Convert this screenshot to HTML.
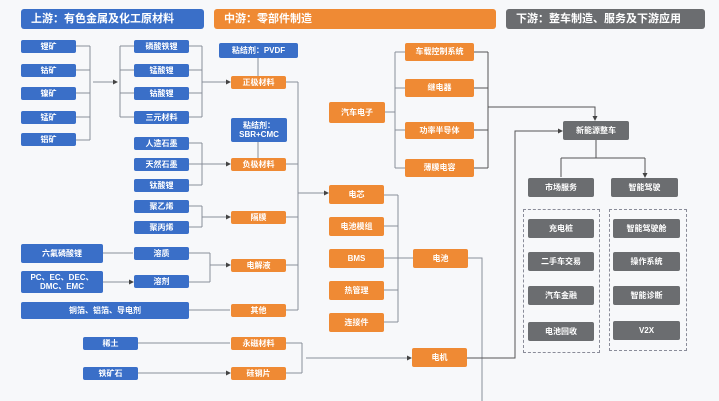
<!DOCTYPE html><html><head><meta charset="utf-8"><style>
body{margin:0;width:719px;height:401px;background:#f7f8fa;position:relative;overflow:hidden;font-family:"Liberation Sans","Noto Sans CJK SC",sans-serif;}
.b{position:absolute;display:flex;align-items:center;justify-content:center;color:#fff;font-size:8px;font-weight:bold;border-radius:2px;text-align:center;line-height:1.15;}
.bl{background:#3a6fc8}.or{background:#ef8a34}.gr{background:#6b6d70}
.h{font-size:11px;justify-content:flex-start;padding-left:10px;box-sizing:border-box;border-radius:3px}
.d{position:absolute;border:1.3px dashed #8a8c99;}
svg{position:absolute;left:0;top:0}
</style></head><body>
<svg width="719" height="401" fill="none" stroke="#8a8f9a" stroke-width="1">
<defs><marker id="a" markerWidth="5" markerHeight="5" refX="4" refY="2.5" orient="auto"><path d="M0,0L5,2.5L0,5z" fill="#444" stroke="none"/></marker></defs>
<path d="M76,46H90M76,70H90M76,93H90M76,117H90M76,140H90M90,46V140"/>
<path d="M93,82H117" marker-end="url(#a)"/>
<path d="M120,46V117M120,46H134M120,70H134M120,93H134M120,117H134"/>
<path d="M189,46H202M189,70H202M189,93H202M189,117H202M202,46V117M202,82H230" marker-end="url(#a)"/>
<path d="M258,58V76M258,142V158"/>
<path d="M189,143H202M189,164H202M189,185H202M202,143V185M202,164H230" marker-end="url(#a)"/>
<path d="M189,206H202M189,227H202M202,206V227M202,217H230" marker-end="url(#a)"/>
<path d="M103,253H133M103,282H133" marker-end="url(#a)"/>
<path d="M189,253H210M189,282H210M210,253V282M210,265H230" marker-end="url(#a)"/>
<path d="M189,310H230M138,343H230M138,373H230" marker-end="url(#a)"/>
<path d="M286,82H298M286,164H298M286,217H298M286,265H298M286,310H298M298,82V310M298,193H328" marker-end="url(#a)"/>
<path d="M286,343H302M286,373H302M302,343V373M306,358H411" marker-end="url(#a)"/>
<path d="M385,112H395M395,52V168M395,52H405M395,88H405M395,130H405M395,168H405"/>
<path d="M474,52H488M474,88H488M474,130H488M474,168H488M488,52V168M488,107H595V120" stroke="#555" marker-end="url(#a)"/>
<path d="M384,195H398M384,226H398M384,258H398M384,290H398M384,322H398M398,195V322M398,258H413"/>
<path d="M468,258H482V401"/>
<path d="M467,358H515V131H562" stroke="#555" marker-end="url(#a)"/>
<path d="M596,140V158M561,158H645M561,158V177M645,158V177" stroke="#555" marker-end="url(#a)"/>
</svg>
<div class="b bl h" style="left:21px;top:9px;width:183px;height:20px">上游：有色金属及化工原材料</div>
<div class="b or h" style="left:214px;top:9px;width:282px;height:20px">中游：零部件制造</div>
<div class="b gr h" style="left:506px;top:9px;width:199px;height:20px">下游：整车制造、服务及下游应用</div>
<div class="b bl" style="left:21px;top:40px;width:55px;height:13px">锂矿</div>
<div class="b bl" style="left:21px;top:64px;width:55px;height:13px">钴矿</div>
<div class="b bl" style="left:21px;top:87px;width:55px;height:13px">镍矿</div>
<div class="b bl" style="left:21px;top:111px;width:55px;height:13px">锰矿</div>
<div class="b bl" style="left:21px;top:133px;width:55px;height:13px">铝矿</div>
<div class="b bl" style="left:134px;top:40px;width:55px;height:13px">磷酸铁锂</div>
<div class="b bl" style="left:134px;top:64px;width:55px;height:13px">锰酸锂</div>
<div class="b bl" style="left:134px;top:87px;width:55px;height:13px">钴酸锂</div>
<div class="b bl" style="left:134px;top:111px;width:55px;height:13px">三元材料</div>
<div class="b bl" style="left:134px;top:137px;width:55px;height:13px">人造石墨</div>
<div class="b bl" style="left:134px;top:158px;width:55px;height:13px">天然石墨</div>
<div class="b bl" style="left:134px;top:179px;width:55px;height:13px">钛酸锂</div>
<div class="b bl" style="left:134px;top:200px;width:55px;height:13px">聚乙烯</div>
<div class="b bl" style="left:134px;top:221px;width:55px;height:13px">聚丙烯</div>
<div class="b bl" style="left:219px;top:43px;width:79px;height:15px">粘结剂：PVDF</div>
<div class="b bl" style="left:231px;top:118px;width:56px;height:24px">粘结剂：<br>SBR+CMC</div>
<div class="b bl" style="left:21px;top:244px;width:82px;height:19px">六氟磷酸锂</div>
<div class="b bl" style="left:21px;top:271px;width:82px;height:22px">PC、EC、DEC、<br>DMC、EMC</div>
<div class="b bl" style="left:134px;top:247px;width:55px;height:13px">溶质</div>
<div class="b bl" style="left:134px;top:275px;width:55px;height:13px">溶剂</div>
<div class="b bl" style="left:21px;top:302px;width:168px;height:17px">铜箔、铝箔、导电剂</div>
<div class="b bl" style="left:83px;top:337px;width:55px;height:13px">稀土</div>
<div class="b bl" style="left:83px;top:367px;width:55px;height:13px">铁矿石</div>
<div class="b or" style="left:231px;top:76px;width:55px;height:13px">正极材料</div>
<div class="b or" style="left:231px;top:158px;width:55px;height:13px">负极材料</div>
<div class="b or" style="left:231px;top:211px;width:55px;height:13px">隔膜</div>
<div class="b or" style="left:231px;top:259px;width:55px;height:13px">电解液</div>
<div class="b or" style="left:231px;top:304px;width:55px;height:13px">其他</div>
<div class="b or" style="left:231px;top:337px;width:55px;height:13px">永磁材料</div>
<div class="b or" style="left:231px;top:367px;width:55px;height:13px">硅钢片</div>
<div class="b or" style="left:329px;top:102px;width:56px;height:21px">汽车电子</div>
<div class="b or" style="left:405px;top:43px;width:69px;height:18px">车载控制系统</div>
<div class="b or" style="left:405px;top:79px;width:69px;height:18px">继电器</div>
<div class="b or" style="left:405px;top:122px;width:69px;height:17px">功率半导体</div>
<div class="b or" style="left:405px;top:159px;width:69px;height:18px">薄膜电容</div>
<div class="b or" style="left:329px;top:185px;width:55px;height:19px">电芯</div>
<div class="b or" style="left:329px;top:217px;width:55px;height:19px">电池模组</div>
<div class="b or" style="left:329px;top:249px;width:55px;height:19px">BMS</div>
<div class="b or" style="left:329px;top:281px;width:55px;height:19px">热管理</div>
<div class="b or" style="left:329px;top:313px;width:55px;height:19px">连接件</div>
<div class="b or" style="left:413px;top:249px;width:55px;height:19px">电池</div>
<div class="b or" style="left:412px;top:348px;width:55px;height:19px">电机</div>
<div class="b gr" style="left:563px;top:121px;width:66px;height:19px">新能源整车</div>
<div class="b gr" style="left:528px;top:178px;width:66px;height:19px">市场服务</div>
<div class="b gr" style="left:611px;top:178px;width:67px;height:19px">智能驾驶</div>
<div class="d" style="left:523px;top:209px;width:75px;height:142px"></div>
<div class="d" style="left:609px;top:209px;width:76px;height:140px"></div>
<div class="b gr" style="left:528px;top:219px;width:66px;height:19px">充电桩</div>
<div class="b gr" style="left:528px;top:252px;width:66px;height:19px">二手车交易</div>
<div class="b gr" style="left:528px;top:286px;width:66px;height:19px">汽车金融</div>
<div class="b gr" style="left:528px;top:322px;width:66px;height:19px">电池回收</div>
<div class="b gr" style="left:613px;top:219px;width:67px;height:19px">智能驾驶舱</div>
<div class="b gr" style="left:613px;top:252px;width:67px;height:19px">操作系统</div>
<div class="b gr" style="left:613px;top:286px;width:67px;height:19px">智能诊断</div>
<div class="b gr" style="left:613px;top:321px;width:67px;height:19px">V2X</div>
</body></html>
